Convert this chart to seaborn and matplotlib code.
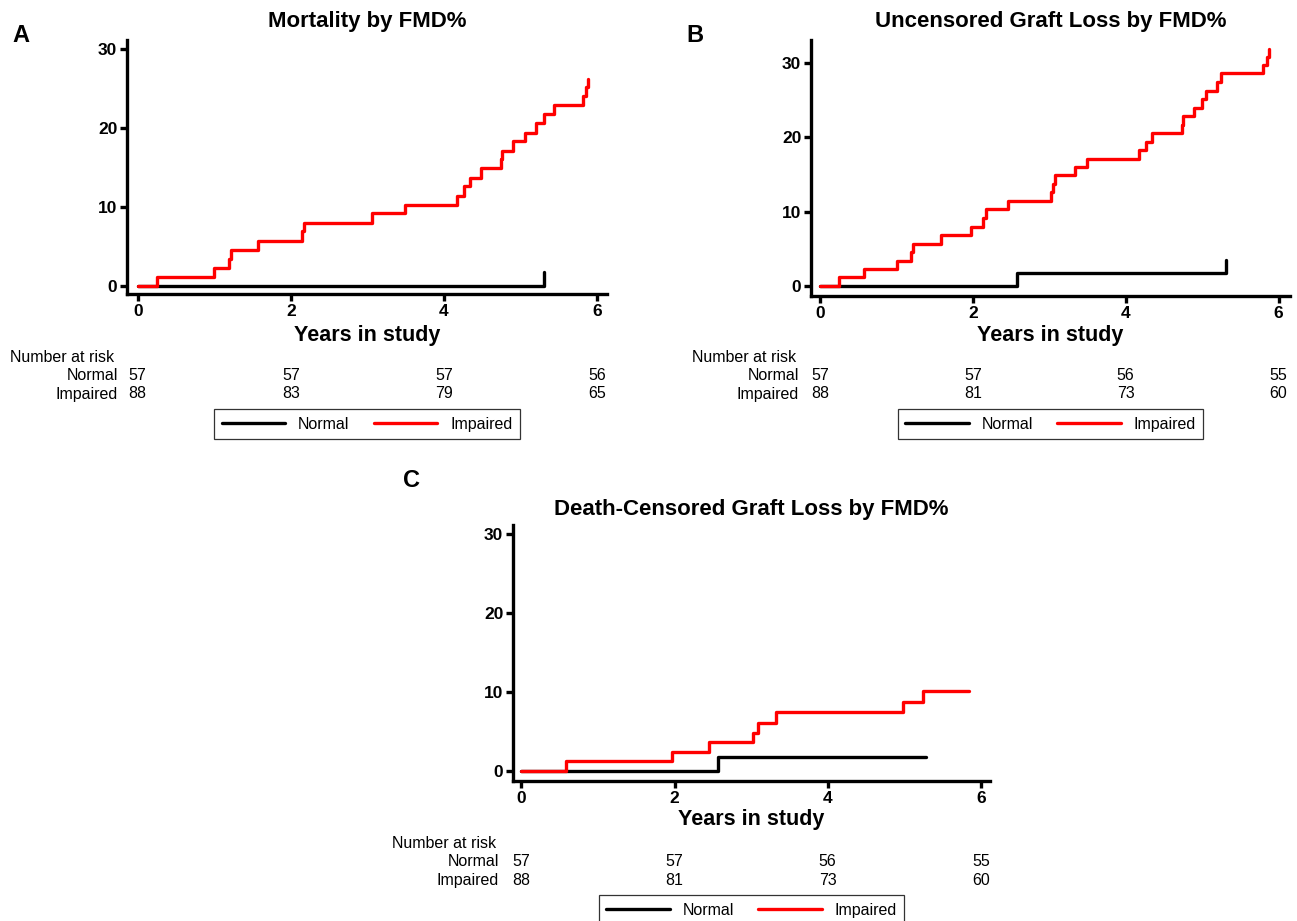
import matplotlib
matplotlib.use("Agg")
import matplotlib.pyplot as plt
import matplotlib.transforms as mtransforms
from matplotlib.lines import Line2D
import seaborn as sns
import pandas as pd

sns.set_theme(style="white")
plt.rcParams['font.family'] = ['Liberation Sans', 'DejaVu Sans']
plt.rcParams['text.color'] = 'black'
plt.rcParams['xtick.color'] = 'black'
plt.rcParams['ytick.color'] = 'black'
plt.rcParams['axes.labelcolor'] = 'black'

# ---------------- data ----------------
titles = ["Mortality by FMD%", "Uncensored Graft Loss by FMD%", "Death-Censored Graft Loss by FMD%"]
panel_letters = ["A", "B", "C"]
groups = ["Normal", "Impaired"]
risk_times = [0, 2, 4, 6]

# Panel A: mortality
a_normal_t = [0, 5.31, 5.31]
a_normal_v = [0, 0, 1.75]
a_impaired_t = [0, 0.25, 1.00, 1.19, 1.22, 1.57, 2.14, 2.17, 3.06, 3.49, 4.17, 4.26, 4.34,
                4.48, 4.74, 4.76, 4.90, 5.06, 5.20, 5.31, 5.44, 5.81, 5.86, 5.88]
a_impaired_v = [0, 1.14, 2.3, 3.45, 4.6, 5.7, 6.9, 8.0, 9.2, 10.3, 11.4, 12.6, 13.7,
                14.9, 16.0, 17.1, 18.3, 19.4, 20.6, 21.7, 22.9, 24.0, 25.1, 26.2]
a_risk_normal = [57, 57, 57, 56]
a_risk_impaired = [88, 83, 79, 65]

# Panel B: uncensored graft loss
b_normal_t = [0, 2.58, 5.31, 5.31]
b_normal_v = [0, 1.75, 1.75, 3.5]
b_impaired_t = [0, 0.25, 0.58, 1.01, 1.19, 1.22, 1.58, 1.97, 2.13, 2.17, 2.46, 3.02, 3.05,
                3.08, 3.33, 3.49, 4.17, 4.26, 4.34, 4.73, 4.75, 4.89, 5.00, 5.05, 5.19,
                5.25, 5.80, 5.85, 5.87]
b_impaired_v = [0, 1.14, 2.3, 3.4, 4.6, 5.7, 6.9, 8.0, 9.1, 10.3, 11.4, 12.6, 13.7,
                14.9, 16.0, 17.1, 18.3, 19.4, 20.6, 21.7, 22.9, 24.0, 25.1, 26.3, 27.4,
                28.6, 29.7, 30.8, 31.9]
b_risk_normal = [57, 57, 56, 55]
b_risk_impaired = [88, 81, 73, 60]

# Panel C: death-censored graft loss
c_normal_t = [0, 2.57, 5.28]
c_normal_v = [0, 1.76, 1.76]
c_impaired_t = [0, 0.58, 1.97, 2.45, 3.02, 3.09, 3.33, 4.99, 5.25, 5.84]
c_impaired_v = [0, 1.2, 2.4, 3.6, 4.8, 6.1, 7.4, 8.7, 10.1, 10.1]
c_risk_normal = [57, 57, 56, 55]
c_risk_impaired = [88, 81, 73, 60]

colors = {"Normal": "black", "Impaired": "#ff0000"}

# ---------------- layout ----------------
W, H = 1297, 921
fig = plt.figure(figsize=(W / 100, H / 100), dpi=100)


def fx(px):
    return px / W


def fy(py):
    return 1 - py / H


panels = [
    dict(box=(127, 40, 607, 294), ylim=(-1.0, 31.1), xlim=(-0.14, 6.13),
         nt=a_normal_t, nv=a_normal_v, it=a_impaired_t, iv=a_impaired_v,
         rn=a_risk_normal, ri=a_risk_impaired,
         letter_xy=(21, 35), title_y=22, xlab_y=335, nar_x=10, lab_right=118,
         nar_y=357, norm_y=376, imp_y=394, leg_y=424),
    dict(box=(811, 40, 1290, 296), ylim=(-1.35, 33.1), xlim=(-0.12, 6.15),
         nt=b_normal_t, nv=b_normal_v, it=b_impaired_t, iv=b_impaired_v,
         rn=b_risk_normal, ri=b_risk_impaired,
         letter_xy=(695, 35), title_y=22, xlab_y=335, nar_x=692, lab_right=799,
         nar_y=357, norm_y=376, imp_y=394, leg_y=424),
    dict(box=(513, 525, 990, 781), ylim=(-1.27, 31.1), xlim=(-0.11, 6.12),
         nt=c_normal_t, nv=c_normal_v, it=c_impaired_t, iv=c_impaired_v,
         rn=c_risk_normal, ri=c_risk_impaired,
         letter_xy=(411, 480), title_y=510, xlab_y=820, nar_x=392, lab_right=499,
         nar_y=843, norm_y=861, imp_y=880, leg_y=910),
]

LW = 2.4
for i, p in enumerate(panels):
    l, t, r, b = p["box"]
    ax = fig.add_axes([fx(l), fy(b), fx(r - l), (b - t) / H])
    dn = pd.DataFrame({"t": p["nt"], "v": p["nv"]})
    di = pd.DataFrame({"t": p["it"], "v": p["iv"]})
    sns.lineplot(data=dn, x="t", y="v", ax=ax, color=colors["Normal"], lw=LW,
                 drawstyle="steps-post", estimator=None, sort=False, zorder=2)
    sns.lineplot(data=di, x="t", y="v", ax=ax, color=colors["Impaired"], lw=LW,
                 drawstyle="steps-post", estimator=None, sort=False, zorder=3)
    ax.set_xlim(*p["xlim"])
    ax.set_ylim(*p["ylim"])
    ax.set_xticks(risk_times)
    ax.set_yticks([0, 10, 20, 30])
    ax.set_xlabel("")
    ax.set_ylabel("")
    for s in ["top", "right"]:
        ax.spines[s].set_visible(False)
    for s in ["left", "bottom"]:
        ax.spines[s].set_linewidth(2.4)
        ax.spines[s].set_color("black")
    ax.tick_params(axis="both", direction="out", length=5, width=2.4, color="black",
                   labelcolor="black", labelsize=12.5, pad=2, left=True, bottom=True)
    for lab in ax.get_xticklabels() + ax.get_yticklabels():
        lab.set_fontweight("bold")
    ax.set_facecolor("white")
    ax.grid(False)

    cx = (l + r) / 2
    fig.text(fx(cx), fy(p["title_y"]), titles[i], ha="center", va="center",
             fontsize=16, fontweight="bold", color="black")
    fig.text(fx(p["letter_xy"][0]), fy(p["letter_xy"][1]), panel_letters[i],
             ha="center", va="center", fontsize=17, fontweight="bold", color="black")
    fig.text(fx(cx), fy(p["xlab_y"]), "Years in study", ha="center", va="center",
             fontsize=15.5, fontweight="bold", color="black")

    # number at risk table
    fig.text(fx(p["nar_x"]), fy(p["nar_y"]), "Number at risk", ha="left", va="center",
             fontsize=11.5, color="black")
    fig.text(fx(p["lab_right"]), fy(p["norm_y"]), "Normal", ha="right", va="center",
             fontsize=11.5, color="black")
    fig.text(fx(p["lab_right"]), fy(p["imp_y"]), "Impaired", ha="right", va="center",
             fontsize=11.5, color="black")
    trans = mtransforms.blended_transform_factory(ax.transData, fig.transFigure)
    for xt, n1, n2 in zip(risk_times, p["rn"], p["ri"]):
        fig.text(xt, fy(p["norm_y"]), str(n1), ha="center", va="center",
                 fontsize=11.5, transform=trans, color="black")
        fig.text(xt, fy(p["imp_y"]), str(n2), ha="center", va="center",
                 fontsize=11.5, transform=trans, color="black")

    handles = [Line2D([], [], color=colors[g], lw=LW) for g in groups]
    leg = fig.legend(handles, groups, loc="center", ncol=2,
                     bbox_to_anchor=(fx(cx), fy(p["leg_y"])),
                     frameon=True, fancybox=False, fontsize=11.5,
                     handlelength=4.0, handletextpad=0.8, columnspacing=1.5,
                     borderpad=0.45, edgecolor="black")
    leg.get_frame().set_linewidth(0.9)
    for txt in leg.get_texts():
        txt.set_color("black")

fig.savefig("out.png", dpi=100, facecolor="white")
